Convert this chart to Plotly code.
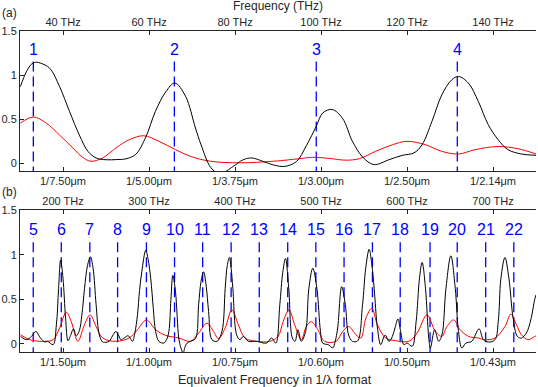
import plotly.graph_objects as go

# ---------------- data ----------------
# panel (a): frequency in THz
a_black_f = [30.1, 31.5, 32.8, 33.8, 34.8, 36.9, 39.2, 41.5, 43.8, 45.8, 47.7, 50.0, 52.5, 54.6, 56.9,
             59.2, 61.5, 63.9, 66.0, 68.5, 70.8, 72.1, 74.4, 76.5, 79.6, 81.9, 83.9, 86.6, 89.0, 91.6,
             94.3, 96.6, 98.9, 100.4, 102.6, 105.0, 107.3, 109.7, 112.3, 115.8, 118.9, 121.6, 123.5,
             125.8, 128.1, 130.4, 132.0, 134.3, 136.6, 138.9, 141.2, 143.5, 146.6, 150.0]
a_black_v = [0.87, 1.04, 1.13, 1.146, 1.135, 1.078, 0.87, 0.59, 0.32, 0.135, 0.06, 0.04, 0.042, 0.05, 0.10,
             0.29, 0.59, 0.81, 0.91, 0.76, 0.40, 0.21, -0.05, -0.12, -0.035, 0.04, 0.06, 0.02, -0.02, -0.035,
             0.02, 0.20, 0.42, 0.57, 0.61, 0.51, 0.25, 0.07, -0.015, 0.04, 0.09, 0.117, 0.21,
             0.475, 0.776, 0.946, 0.984, 0.908, 0.70, 0.437, 0.267, 0.154, 0.105, 0.09]

a_red_f = [30.1, 33.1, 36.1, 39.2, 42.3, 44.5, 46.5, 49.2, 52.3, 55.4, 58.8, 62.3, 66.2, 69.6, 74.3,
           81.2, 88.9, 95.0, 98.1, 101.9, 105.8, 108.9, 112.7, 116.6, 120.0, 124.3, 128.1, 132.0,
           135.8, 141.2, 145.8, 150.0]
a_red_v = [0.456, 0.524, 0.456, 0.32, 0.173, 0.07, 0.023, 0.06, 0.173, 0.267, 0.312, 0.249, 0.154, 0.079, 0.023,
           0.005, 0.023, 0.052, 0.068, 0.055, 0.035, 0.052, 0.135, 0.21, 0.249, 0.21, 0.135, 0.105,
           0.154, 0.19, 0.165, 0.105]

# panel (b)
b_black_f = [150.7, 157.6, 163.4, 168.4, 173.8, 178.8, 182.0, 188.5, 192.3, 194.9, 197.2, 200.0, 203.0,
             205.8, 208.4, 212.2, 215.4, 219.0, 222.0, 225.0, 228.5, 231.9, 235.0, 238.5, 242.3, 246.2,
             250.0, 253.8, 257.5, 261.5, 265.0, 267.3, 271.1, 275.7, 278.5, 280.8, 283.5, 286.6, 289.0,
             291.6, 296.2, 299.0, 302.0, 305.0, 307.7, 311.5, 317.3, 320.5, 323.1, 325.5, 327.7, 330.8,
             334.6, 337.0, 339.7, 342.0, 344.3, 348.2, 354.0, 357.7, 360.5, 363.5, 366.5, 369.3, 373.2,
             379.0, 384.8, 388.6, 391.0, 393.5, 395.5, 397.5, 402.0, 405.8, 409.7, 415.5, 425.2, 436.7,
             442.5, 447.5, 452.1, 455.5, 458.7, 462.5, 466.7, 469.8, 473.2, 477.1, 482.1, 485.9, 490.5,
             495.2, 499.4, 502.0, 509.0, 513.6, 516.5, 519.4, 524.0, 528.3, 532.1, 536.7, 542.5, 548.3,
             552.0, 556.0, 559.0, 561.8, 565.6, 569.5, 574.5, 579.1, 583.0, 586.0, 589.5, 592.6, 596.4,
             600.2, 606.0, 610.6, 614.5, 617.6, 621.5, 625.3, 627.2, 632.2, 636.8, 640.6, 645.3, 651.0,
             656.1, 659.9, 663.8, 668.4, 675.3, 683.8, 688.8, 694.6, 702.3, 706.1, 709.2, 713.9, 718.5,
             723.4, 728.4, 733.0, 738.8, 743.9, 748.5, 750.0]
b_black_v = [0.085, 0.048, 0.085, 0.14, 0.067, 0.022, 0.03, -0.008, 0.215, 0.625, 0.94, 0.736, 0.29,
             0.037, 0.085, 0.17, 0.09, 0.15, 0.33, 0.62, 0.88, 0.978, 0.85, 0.44, 0.10, 0.022,
             0.02, 0.03, 0.09, 0.14, 0.09, 0.048, 0.067, 0.093, 0.06, 0.03, 0.12, 0.327, 0.60,
             0.81, 1.05, 0.95, 0.736, 0.40, 0.14, 0.03, 0.01, 0.05, 0.14, 0.50, 0.77, 0.587,
             0.067, -0.04, -0.10, -0.03, 0.01, 0.03, 0.06, 0.44, 0.70, 0.81, 0.65, 0.364, 0.048,
             0.03, 0.14, 0.625, 0.88, 0.97, 0.85, 0.625, 0.10, 0.048, 0.085, 0.03, 0.03, 0.01,
             0.067, 0.01, 0.44, 0.80, 0.96, 0.625, 0.067, 0.03, 0.16, 0.03, 0.14, 0.625, 0.85,
             0.625, 0.14, 0.01, -0.01, -0.045, 0.03, 0.18, 0.643, 0.44, 0.10, 0.03, 0.035, 0.44,
             0.85, 1.063, 0.90, 0.625, 0.18, -0.008, 0.10, 0.03, 0.085, 0.18, 0.28, 0.14, -0.008,
             0.01, -0.026, 0.25, 0.736, 0.915, 0.625, 0.067, -0.045, 0.16, 0.03, 0.10, 0.625, 0.99,
             0.625, 0.14, -0.045, 0.01, 0.03, 0.17, 0.048, 0.022, 0.048, 0.25, 0.736, 0.97, 0.736,
             0.29, 0.085, 0.067, 0.123, 0.27, 0.50, 0.55]

b_red_f = [150.7, 161.4, 176.9, 188.5, 196.1, 203.8, 209.6, 217.3, 224.9, 231.5, 238.5, 246.2, 261.5,
           276.9, 286.6, 297.0, 307.7, 319.3, 334.6, 348.2, 357.7, 367.4, 375.1, 380.8, 388.6, 396.3,
           403.9, 411.7, 425.2, 440.6, 450.1, 455.9, 462.8, 469.4, 477.1, 482.9, 488.7, 496.3, 504.0,
           517.5, 525.2, 532.1, 540.6, 546.4, 552.2, 559.1, 565.6, 575.3, 586.8, 602.2, 611.8, 623.3,
           633.0, 640.6, 646.4, 654.2, 661.9, 671.5, 683.0, 690.7, 702.3, 713.9, 720.8, 727.3, 733.0,
           740.8, 748.5, 750.0]
b_red_v = [0.104, 0.048, 0.03, 0.048, 0.18, 0.357, 0.25, 0.03, 0.215, 0.327, 0.196, 0.067, 0.03,
           0.067, 0.16, 0.27, 0.16, 0.096, 0.067, 0.03, 0.123, 0.234, 0.14, 0.06, 0.18, 0.383,
           0.215, 0.067, 0.03, 0.03, 0.085, 0.25, 0.383, 0.215, 0.048, 0.196, 0.25, 0.16, 0.03,
           0.03, 0.14, 0.196, 0.104, 0.067, 0.29, 0.40, 0.215, 0.067, 0.037, 0.03, 0.123, 0.327,
           0.14, 0.085, 0.196, 0.27, 0.16, 0.085, 0.067, 0.048, 0.067, 0.196, 0.335, 0.215, 0.104,
           0.048, 0.085, 0.09]

# marker positions (THz) and labels
a_mark_f = [33.1, 65.9, 98.9, 131.7]
a_mark_lbl = ["1", "2", "3", "4"]
b_mark_f = [165.4, 198.0, 231.2, 263.5, 297.0, 329.7, 362.4, 395.5, 428.2, 461.3, 494.0, 526.8,
            559.8, 592.1, 626.8, 658.4, 691.5, 724.2]
b_mark_lbl = [str(i) for i in range(5, 23)]

# ticks
a_tickvals = [40, 60, 80, 100, 120, 140]
a_top_text = ["40 THz", "60 THz", "80 THz", "100 THz", "120 THz", "140 THz"]
a_bot_text = ["1/7.50μm", "1/5.00μm", "1/3.75μm", "1/3.00μm", "1/2.50μm", "1/2.14μm"]
b_tickvals = [200, 300, 400, 500, 600, 700]
b_top_text = ["200 THz", "300 THz", "400 THz", "500 THz", "600 THz", "700 THz"]
b_bot_text = ["1/1.50μm", "1/1.00μm", "1/0.75μm", "1/0.60μm", "1/0.50μm", "1/0.43μm"]
y_tickvals = [0, 0.5, 1, 1.5]
y_ticktext = ["0", "0.5", "1", "1.5"]

# ---------------- figure ----------------
W, H = 538, 387
ML, MR = 20, 2
AX = "#262626"
FONT = "Liberation Sans, Arial, sans-serif"
BLUE = "#0000ff"
DASH = "10px,5px"
LINE_TOP, LINE_BOT = 1.2, -0.15

fig = go.Figure()


def vlines(fs):
    xs, ys = [], []
    for f in fs:
        xs += [f, f, None]
        ys += [LINE_BOT, LINE_TOP, None]
    return xs, ys


# panel a
xs, ys = vlines(a_mark_f)
fig.add_trace(go.Scatter(x=xs, y=ys, mode="lines", line=dict(color=BLUE, width=1.3, dash=DASH),
                         xaxis="x", yaxis="y", showlegend=False, hoverinfo="skip"))
fig.add_trace(go.Scatter(x=a_red_f, y=a_red_v, mode="lines", line=dict(color="red", width=1, shape="spline"),
                         xaxis="x", yaxis="y", showlegend=False))
fig.add_trace(go.Scatter(x=a_black_f, y=a_black_v, mode="lines", line=dict(color="black", width=1, shape="spline"),
                         xaxis="x", yaxis="y", showlegend=False))
fig.add_trace(go.Scatter(x=[30, 150], y=[None, None], mode="lines", xaxis="x2", yaxis="y",
                         showlegend=False, hoverinfo="skip"))

# panel b
xs, ys = vlines(b_mark_f)
fig.add_trace(go.Scatter(x=xs, y=ys, mode="lines", line=dict(color=BLUE, width=1.3, dash=DASH),
                         xaxis="x3", yaxis="y2", showlegend=False, hoverinfo="skip"))
fig.add_trace(go.Scatter(x=b_red_f, y=b_red_v, mode="lines", line=dict(color="red", width=1, shape="spline"),
                         xaxis="x3", yaxis="y2", showlegend=False))
fig.add_trace(go.Scatter(x=b_black_f, y=b_black_v, mode="lines", line=dict(color="black", width=1, shape="spline"),
                         xaxis="x3", yaxis="y2", showlegend=False))
fig.add_trace(go.Scatter(x=[150, 750], y=[None, None], mode="lines", xaxis="x4", yaxis="y2",
                         showlegend=False, hoverinfo="skip"))


def py(p):
    return 1 - p / H


def px(p):
    return (p - ML) / (W - ML - MR)


common_x = dict(showgrid=False, zeroline=False, showline=True, linecolor=AX, linewidth=1,
                ticks="inside", ticklen=4, tickcolor=AX, tickfont=dict(family=FONT, size=11, color=AX),
                automargin=False, fixedrange=True)
common_y = dict(showgrid=False, zeroline=False, showline=True, linecolor=AX, linewidth=1,
                ticks="inside", ticklen=4, tickcolor=AX, tickfont=dict(family=FONT, size=11, color=AX),
                automargin=False, range=[-0.09, 1.5], tickvals=y_tickvals, ticktext=y_ticktext,
                fixedrange=True)

fig.update_layout(
    width=W, height=H,
    margin=dict(l=ML, r=MR, t=0, b=0),
    paper_bgcolor="white", plot_bgcolor="white",
    showlegend=False,
    xaxis=dict(common_x, domain=[0, 1], anchor="y", range=[30, 150], side="bottom",
               tickvals=a_tickvals, ticktext=a_bot_text),
    xaxis2=dict(common_x, overlaying="x", anchor="y", range=[30, 150], side="top",
                tickvals=a_tickvals, ticktext=a_top_text),
    yaxis=dict(common_y, domain=[py(171.2), py(31)], anchor="x"),
    xaxis3=dict(common_x, domain=[0, 1], anchor="y2", range=[150, 750], side="bottom",
                tickvals=b_tickvals, ticktext=b_bot_text),
    xaxis4=dict(common_x, overlaying="x3", anchor="y2", range=[150, 750], side="top",
                tickvals=b_tickvals, ticktext=b_top_text),
    yaxis2=dict(common_y, domain=[py(352), py(210.3)], anchor="x3"),
)

ann = []
for f, t in zip(a_mark_f, a_mark_lbl):
    ann.append(dict(x=f, y=1.29, xref="x", yref="y", text=t, showarrow=False,
                    font=dict(family=FONT, size=16, color=BLUE), xanchor="center", yanchor="middle"))
for f, t in zip(b_mark_f, b_mark_lbl):
    ann.append(dict(x=f, y=1.29, xref="x3", yref="y2", text=t, showarrow=False,
                    font=dict(family=FONT, size=16, color=BLUE), xanchor="center", yanchor="middle"))
ann.append(dict(x=px(9.5), y=py(13.5), xref="paper", yref="paper", text="(a)", showarrow=False,
                font=dict(family=FONT, size=12, color=AX), xanchor="center", yanchor="middle"))
ann.append(dict(x=px(9.5), y=py(192.5), xref="paper", yref="paper", text="(b)", showarrow=False,
                font=dict(family=FONT, size=12, color=AX), xanchor="center", yanchor="middle"))
ann.append(dict(x=px(278), y=py(6), xref="paper", yref="paper", text="Frequency (THz)", showarrow=False,
                font=dict(family=FONT, size=12, color=AX), xanchor="center", yanchor="middle"))
ann.append(dict(x=px(275), y=py(379.5), xref="paper", yref="paper", text="Equivalent Frequency in 1/λ format",
                showarrow=False, font=dict(family=FONT, size=12.5, color=AX), xanchor="center", yanchor="middle"))
fig.update_layout(annotations=ann)

fig.write_html("out.html", config={"displayModeBar": False},
               post_script="document.body.style.margin='0';document.body.style.overflow='hidden';")
